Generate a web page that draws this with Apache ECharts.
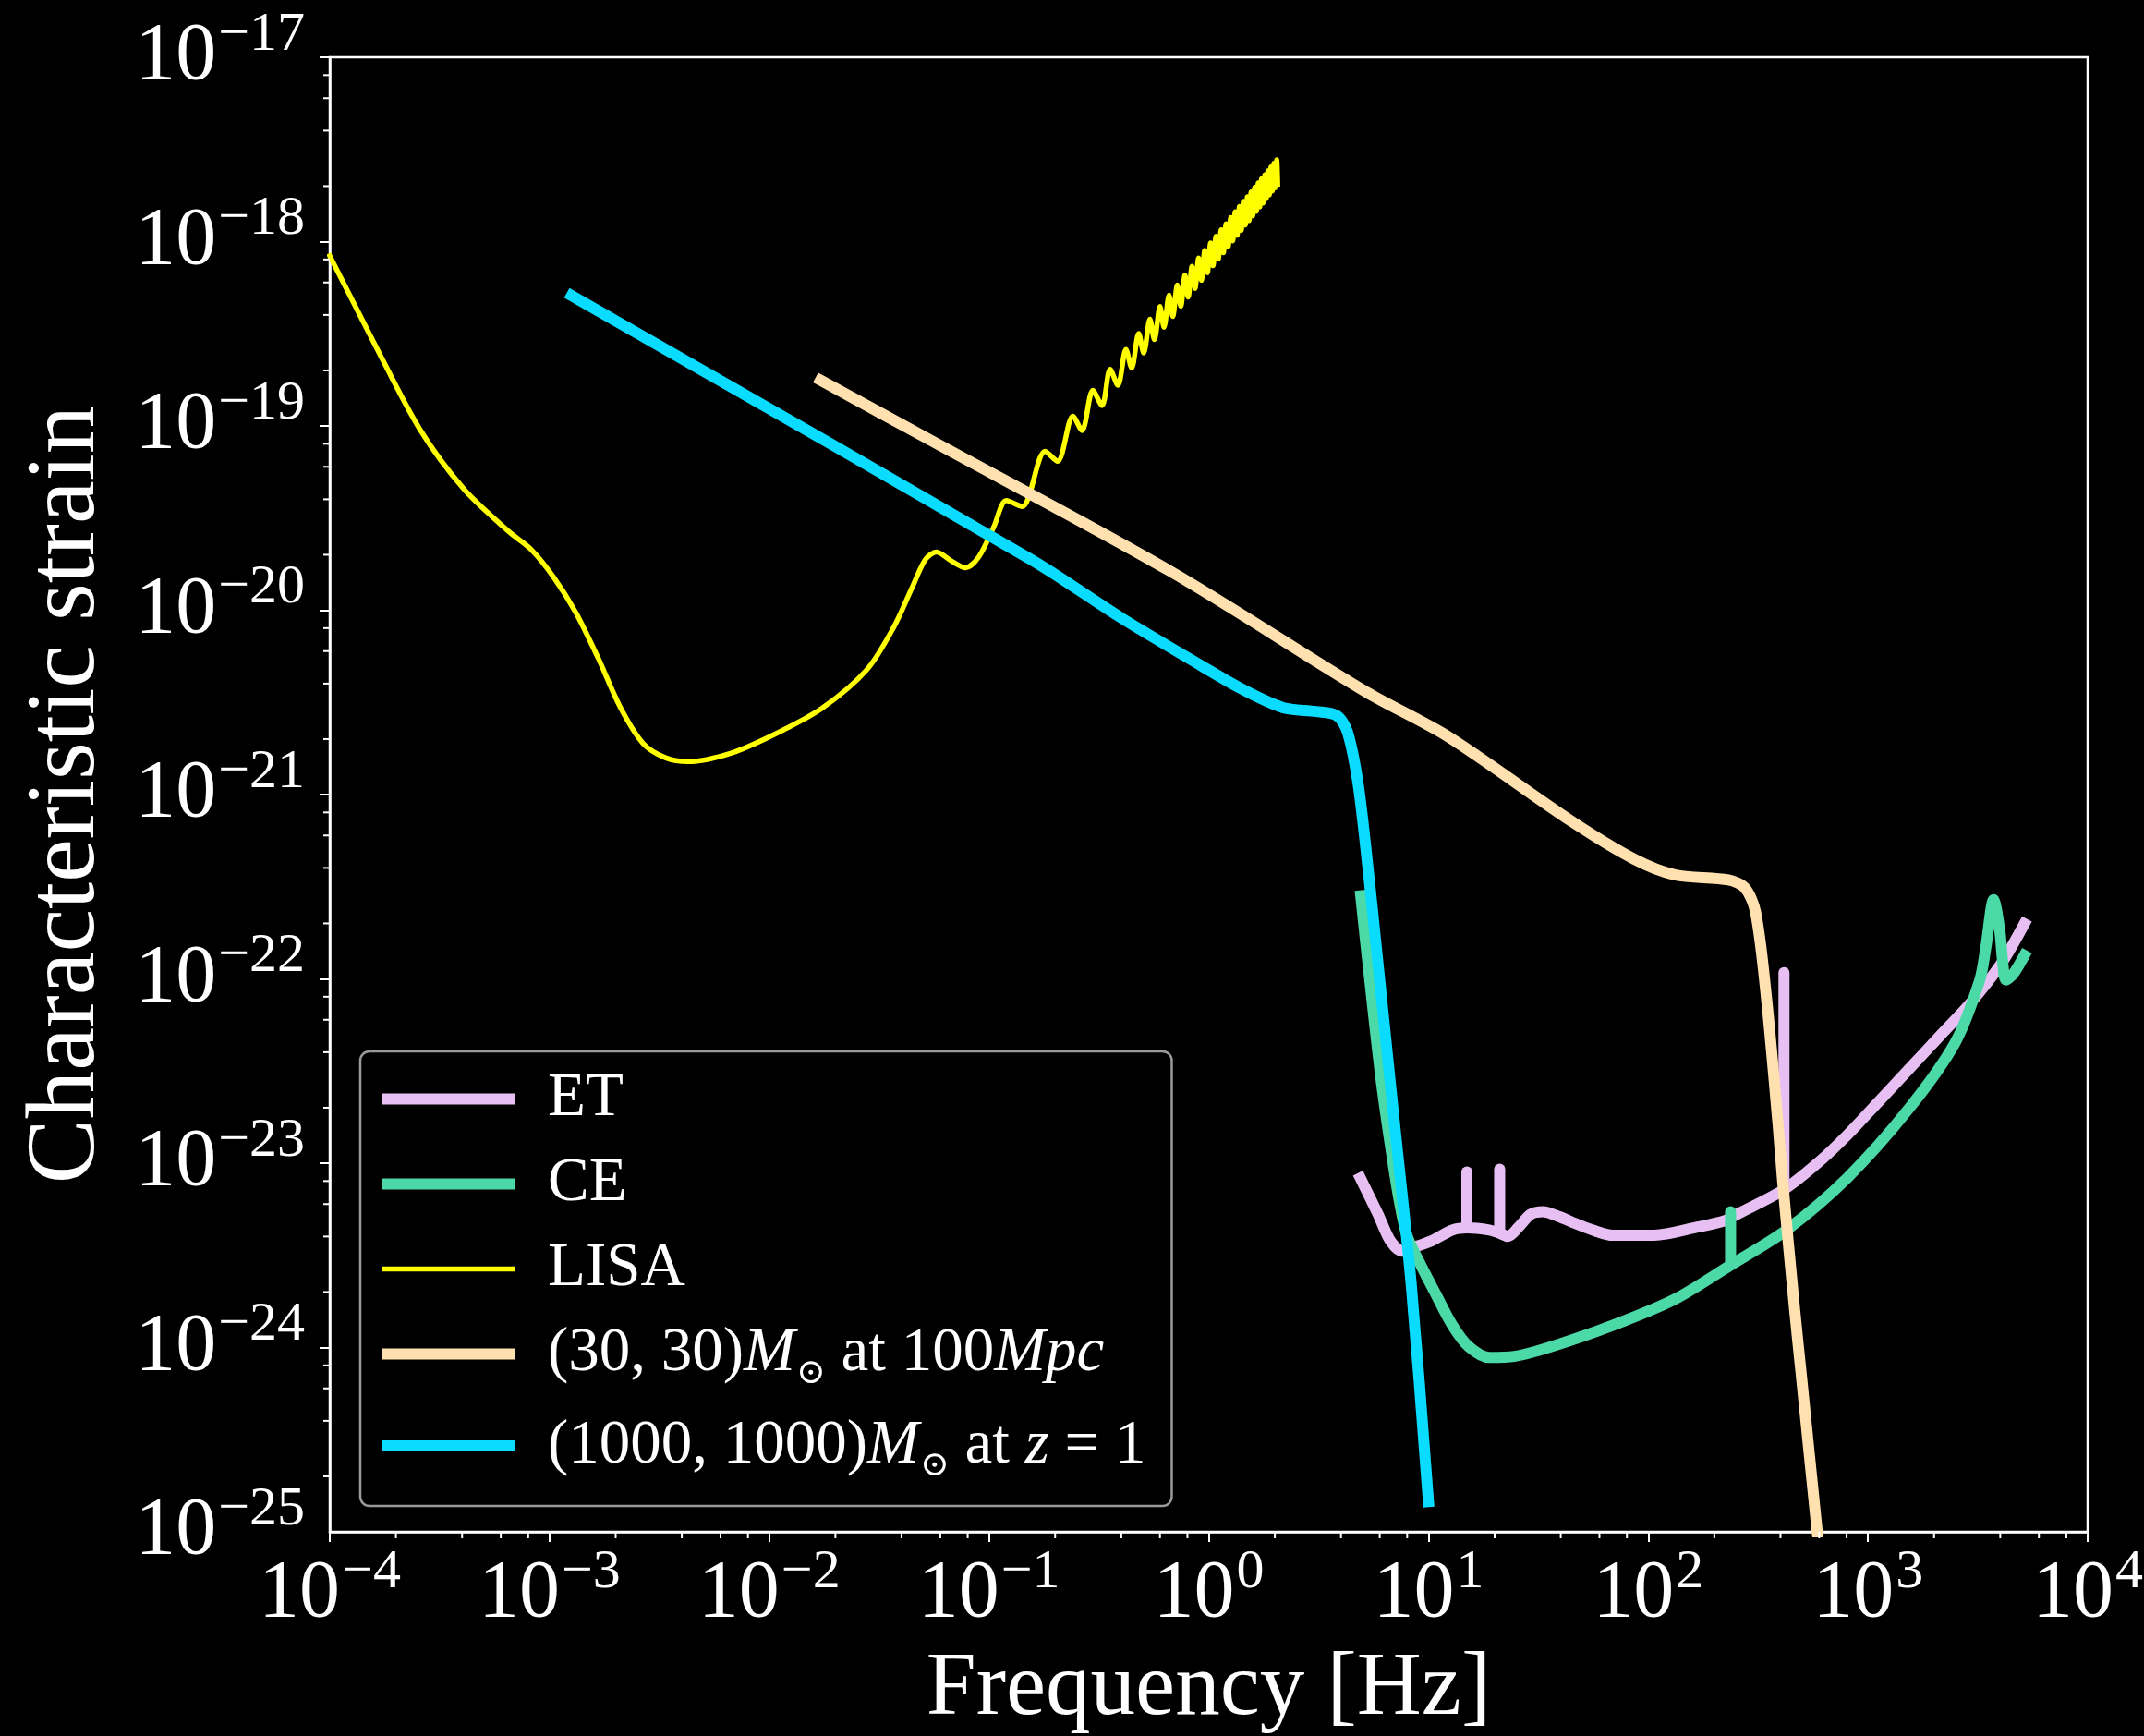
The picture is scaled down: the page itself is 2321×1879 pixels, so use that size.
<!DOCTYPE html>
<html>
<head>
<meta charset="utf-8">
<script src="https://cdn.jsdelivr.net/npm/echarts@6/dist/echarts.min.js"></script>
<style>
  html, body { margin: 0; padding: 0; background: #000; }
  #chart { width: 2321px; height: 1879px; }
</style>
</head>
<body>
<div id="chart"></div>
<script>
// Characteristic strain of ground/space detectors and two binary signals (log-log).

const SERIF = '"Liberation Serif", "Times New Roman", "DejaVu Serif", serif';

// axis ranges
const freqRange = [1e-4, 1e4];
const strainRange = [1e-25, 1e-17];
const minorMultipliers = [2, 4, 6, 8];

// series names as drawn in the legend
const seriesNames = ['ET', 'CE', 'LISA', '(30, 30)M⊙ at 100Mpc', '(1000, 1000)M⊙ at z = 1'];
const seriesColors = ['#E8BFF2', '#4CD9A8', '#FFFF00', '#FFE1B0', '#0ADCFF'];

// Einstein Telescope [frequency Hz, strain]
const etCurve = [
  [4.90, 8.30e-24], [5.90, 5.28e-24], [6.71, 3.79e-24], [7.64, 3.33e-24],
  [8.89, 3.55e-24], [10.35, 3.79e-24], [12.85, 4.34e-24], [14.96, 4.46e-24],
  [18.92, 4.34e-24], [21.09, 4.17e-24], [23.01, 4.01e-24], [25.64, 4.48e-24],
  [29.17, 5.28e-24], [33.19, 5.46e-24], [39.45, 5.12e-24], [44.98, 4.79e-24],
  [55.72, 4.34e-24], [69.18, 4.06e-24], [106.7, 4.07e-24], [164.4, 4.48e-24],
  [221.8, 4.86e-24], [253.5, 5.28e-24], [415, 7.2e-24], [601, 1.02e-23],
  [805, 1.42e-23], [1112, 2.14e-23], [1538, 3.24e-23], [2123, 4.90e-23],
  [2931, 7.40e-23], [4046, 1.21e-22], [5152, 1.99e-22]
];
// ET narrow lines [frequency, floor, peak]
const etLines = [
  [14.96, 4.46e-24, 8.97e-24],
  [21.09, 4.17e-24, 9.27e-24],
  [415, 7.2e-24, 1.08e-22]
];

// Cosmic Explorer
const ceCurve = [
  [4.92, 2.82e-22], [5.19, 1.55e-22], [5.65, 6.14e-23], [6.15, 2.59e-23],
  [6.71, 1.25e-23], [7.33, 6.46e-24], [7.98, 4.06e-24], [9.08, 2.91e-24],
  [10.8, 1.95e-24], [12.85, 1.32e-24], [15.28, 1.01e-24], [18.92, 8.83e-25],
  [24.55, 8.95e-25], [36.2, 1.01e-24], [69.2, 1.32e-24], [132.4, 1.83e-24],
  [237.1, 2.80e-24], [422.7, 4.31e-24], [805.4, 8.32e-24], [1538, 1.98e-23],
  [2495, 4.51e-23], [3228, 9.86e-23], [3443, 1.49e-22], [3733, 2.69e-22],
  [3981, 1.83e-22], [4111, 1.21e-22], [4246, 9.86e-23], [4603, 1.07e-22],
  [5152, 1.34e-22]
];
// CE narrow line [frequency, floor, peak]
const ceLines = [
  [237.1, 2.80e-24, 5.46e-24]
];

// LISA
const lisaCurve = [
  [1.0e-4, 8.37e-19], [1.60e-4, 2.78e-19], [2.56e-4, 9.66e-20], [4.08e-4, 4.54e-20],
  [6.53e-4, 2.67e-20], [8.24e-4, 2.14e-20], [1.045e-3, 1.51e-20], [1.32e-3, 9.68e-21],
  [1.67e-3, 5.46e-21], [2.11e-3, 2.94e-21], [2.67e-3, 1.89e-21], [3.37e-3, 1.585e-21],
  [4.27e-3, 1.51e-21], [6.82e-3, 1.69e-21], [1.09e-2, 2.16e-21], [1.74e-2, 2.94e-21],
  [2.79e-2, 4.78e-21], [3.69e-2, 8.11e-21], [4.46e-2, 1.32e-20], [5.13e-2, 1.88e-20],
  [5.77e-2, 2.07e-20], [6.79e-2, 1.84e-20], [7.82e-2, 1.70e-20], [9.02e-2, 1.96e-20],
  [0.105, 2.82e-20], [0.12, 3.94e-20], [0.1416, 3.65e-20],
  [0.18, 7.29e-20], [0.205, 6.43e-20],
  [0.241, 1.13e-19], [0.265, 9.44e-20],
  [0.297, 1.56e-19], [0.327, 1.29e-19],
  [0.356, 2.03e-19], [0.386, 1.66e-19],
  [0.42, 2.60e-19], [0.446, 2.06e-19],
  [0.48, 3.17e-19], [0.506, 2.49e-19],
  [0.54, 3.79e-19], [0.566, 2.94e-19],
  [0.60, 4.44e-19], [0.626, 3.43e-19],
  [0.66, 5.12e-19], [0.686, 3.93e-19],
  [0.72, 5.82e-19], [0.746, 4.46e-19],
  [0.78, 6.58e-19], [0.806, 5.00e-19],
  [0.84, 7.35e-19], [0.866, 5.57e-19],
  [0.90, 8.15e-19], [0.926, 6.17e-19],
  [0.96, 8.97e-19], [0.986, 6.78e-19],
  [1.02, 9.82e-19], [1.046, 7.40e-19],
  [1.08, 1.07e-18], [1.106, 8.05e-19],
  [1.14, 1.16e-18], [1.166, 8.71e-19],
  [1.20, 1.25e-18], [1.226, 9.40e-19],
  [1.26, 1.35e-18], [1.286, 1.01e-18],
  [1.32, 1.45e-18], [1.346, 1.08e-18],
  [1.38, 1.55e-18], [1.406, 1.15e-18],
  [1.44, 1.65e-18], [1.466, 1.23e-18],
  [1.50, 1.75e-18], [1.526, 1.30e-18],
  [1.56, 1.86e-18], [1.586, 1.38e-18],
  [1.62, 1.97e-18], [1.646, 1.46e-18],
  [1.68, 2.08e-18], [1.706, 1.54e-18],
  [1.74, 2.19e-18], [1.766, 1.62e-18],
  [1.80, 2.30e-18], [1.826, 1.71e-18],
  [1.86, 2.42e-18], [1.886, 1.79e-18],
  [1.92, 2.54e-18], [1.946, 1.88e-18],
  [1.98, 2.66e-18], [2.006, 1.96e-18],
  [2.04, 2.78e-18], [2.06, 2.05e-18]
];

// (30, 30) solar-mass binary at 100 Mpc
const bbh30Curve = [
  [0.0171, 1.77e-19], [0.0505, 8.75e-20], [0.667, 1.63e-20], [5.19, 3.61e-21],
  [12.3, 2.06e-21], [45.0, 7.13e-22], [85.9, 4.48e-22], [132, 3.67e-22],
  [232, 3.44e-22], [276, 3.11e-22], [308, 2.31e-22], [343, 8.55e-23],
  [390, 1.63e-23], [409, 8.04e-24], [464, 1.60e-24], [497, 7.19e-25],
  [588, 1.0e-25], [620, 5.9e-26]
];

// (1000, 1000) solar-mass binary at z = 1
const bbh1000Curve = [
  [1.26e-3, 5.09e-19], [0.157, 1.87e-20], [0.398, 9.12e-21], [0.92, 5.02e-21],
  [1.42, 3.73e-21], [2.18, 2.96e-21], [3.08, 2.82e-21], [3.83, 2.68e-21],
  [4.27, 2.20e-21], [4.75, 1.21e-21], [5.19, 5.12e-22], [5.90, 1.19e-22],
  [7.01, 1.63e-23], [8.34, 2.23e-24], [10.0, 1.46e-25]
];

const curves = [etCurve, ceCurve, lisaCurve, bbh30Curve, bbh1000Curve];
const lineWidths = [12, 12, 5.5, 12, 12];
const smoothing = 0.3;

// minor tick positions (2, 4, 6, 8 within each decade)
function minorTicks(range) {
  const out = [];
  const e0 = Math.round(Math.log10(range[0]));
  const e1 = Math.round(Math.log10(range[1]));
  for (let e = e0; e < e1; e++) {
    minorMultipliers.forEach(m => out.push(m * Math.pow(10, e)));
  }
  return out;
}
const xMinor = minorTicks(freqRange);
const yMinor = minorTicks(strainRange);

// power-of-ten tick labels
function powerLabel(v) {
  const e = Math.round(Math.log10(v));
  const exp = e < 0 ? '\u2212' + (-e) : String(e);
  return '{b|10}{s|' + exp + '}';
}
const tickRich = {
  b: { fontFamily: SERIF, fontSize: 88, color: '#fff', lineHeight: 96 },
  s: { fontFamily: SERIF, fontSize: 60, color: '#fff', lineHeight: 60, padding: [0, 0, 48, 2] }
};

// legend text with math-style parts
const legendMarkup = {
  'ET': '{rm|ET}',
  'CE': '{rm|CE}',
  'LISA': '{rm|LISA}',
  '(30, 30)M⊙ at 100Mpc': '{rm|(30, 30)}{it|M}{sub|⊙}{rm| at 100}{it|Mpc}',
  '(1000, 1000)M⊙ at z = 1': '{rm|(1000, 1000)}{it|M}{sub|⊙}{rm| at }{it|z}{rm| = 1}'
};
const legendRich = {
  rm: { fontFamily: SERIF, fontSize: 67, color: '#fff' },
  it: { fontFamily: SERIF, fontSize: 67, fontStyle: 'italic', color: '#fff' },
  // subscript: shifted down while keeping the row height of the plain entries
  sub: { fontFamily: '"DejaVu Serif", serif', fontSize: 38, color: '#fff', padding: [36, 0, -8, 1] }
};

const lineSeries = seriesNames.map((name, i) => ({
  name: name,
  type: 'line',
  xAxisIndex: 0,
  yAxisIndex: 0,
  data: curves[i],
  showSymbol: false,
  symbol: 'none',
  smooth: smoothing,
  clip: true,
  z: 10 + i,
  lineStyle: { color: seriesColors[i], width: lineWidths[i], cap: 'square', join: 'round' },
  itemStyle: { color: seriesColors[i] },
  emphasis: { disabled: true }
}));

// vertical narrow-line features drawn from floor to peak
function narrowLineSeries(rows, color, z) {
  return {
    type: 'custom', silent: true, clip: true, z: z, xAxisIndex: 0, yAxisIndex: 0,
    encode: { x: 0, y: [1, 2] },
    data: rows,
    renderItem: (params, api) => {
      const a = api.coord([api.value(0), api.value(1)]);
      const b = api.coord([api.value(0), api.value(2)]);
      return {
        type: 'line',
        shape: { x1: a[0], y1: a[1], x2: b[0], y2: b[1] },
        style: { stroke: color, lineWidth: 12, lineCap: 'round' }
      };
    }
  };
}

const tickStyle = { stroke: '#fff', lineWidth: 2 };
const minorTickSeries = [
  {
    type: 'custom', silent: true, clip: false, z: 30, xAxisIndex: 0, yAxisIndex: 0,
    data: xMinor.map(v => [v, strainRange[0]]),
    renderItem: (params, api) => {
      const p = api.coord([api.value(0), api.value(1)]);
      return { type: 'line', shape: { x1: p[0], y1: p[1], x2: p[0], y2: p[1] + 7 }, style: tickStyle };
    }
  },
  {
    type: 'custom', silent: true, clip: false, z: 30, xAxisIndex: 0, yAxisIndex: 0,
    data: yMinor.map(v => [freqRange[0], v]),
    renderItem: (params, api) => {
      const p = api.coord([api.value(0), api.value(1)]);
      return { type: 'line', shape: { x1: p[0], y1: p[1], x2: p[0] - 7, y2: p[1] }, style: tickStyle };
    }
  }
];

const plotRect = { left: 357, right: 61, top: 62, bottom: 221 };

const chart = echarts.init(document.getElementById('chart'), null, { renderer: 'canvas' });
chart.setOption({
  backgroundColor: '#000',
  animation: false,
  grid: [
    Object.assign({
      show: true, borderColor: '#fff', borderWidth: 2.5, backgroundColor: 'transparent',
      containLabel: false, outerBoundsMode: 'none'
    }, plotRect),
    // twin frame that carries the strain tick labels
    Object.assign({ show: false, containLabel: false, outerBoundsMode: 'none' }, plotRect)
  ],
  xAxis: [
    {
      type: 'log', logBase: 10, min: freqRange[0], max: freqRange[1], splitNumber: 8, gridIndex: 0,
      name: 'Frequency [Hz]', nameLocation: 'middle', nameGap: 123, nameMoveOverlap: false,
      nameTextStyle: { fontFamily: SERIF, fontSize: 97, color: '#fff', lineHeight: 97 },
      axisLine: { show: true, lineStyle: { color: '#fff', width: 2.5 } },
      axisTick: { show: true, inside: false, length: 11, lineStyle: { color: '#fff', width: 2 } },
      minorTick: { show: false },
      splitLine: { show: false },
      axisLabel: {
        show: true, margin: 20, showMinLabel: true, showMaxLabel: true, hideOverlap: false,
        formatter: powerLabel, rich: tickRich, color: '#fff'
      }
    },
    {
      type: 'log', logBase: 10, min: freqRange[0], max: freqRange[1], gridIndex: 1, show: false
    }
  ],
  yAxis: [
    {
      type: 'log', logBase: 10, min: strainRange[0], max: strainRange[1], splitNumber: 8, gridIndex: 0,
      name: 'Characteristic strain', nameLocation: 'middle', nameRotate: 90, nameGap: 231,
      nameMoveOverlap: false,
      nameTextStyle: { fontFamily: SERIF, fontSize: 105, color: '#fff', lineHeight: 105 },
      axisLine: { show: true, lineStyle: { color: '#fff', width: 2.5 } },
      axisTick: { show: true, inside: false, length: 11, lineStyle: { color: '#fff', width: 2 } },
      minorTick: { show: false },
      splitLine: { show: false },
      axisLabel: { show: false }
    },
    {
      // lower bound nudged a hair below 1e-25 so the bottom decade gets its own label
      type: 'log', logBase: 10, min: strainRange[0] * 0.99999999, max: strainRange[1], splitNumber: 8, gridIndex: 1,
      axisLine: { show: false },
      axisTick: { show: false },
      minorTick: { show: false },
      splitLine: { show: false },
      axisLabel: {
        show: true, margin: 27, showMinLabel: true, showMaxLabel: true, hideOverlap: true,
        formatter: powerLabel, rich: tickRich, color: '#fff'
      }
    }
  ],
  legend: {
    orient: 'vertical', left: 390, top: 1138,
    itemWidth: 144, itemHeight: 14, itemGap: 25,
    padding: [18, 28, 24, 18],
    backgroundColor: 'rgba(0,0,0,0.8)', borderColor: '#9a9a9a', borderWidth: 2.5, borderRadius: 10,
    selectedMode: false,
    lineStyle: { width: 'inherit', cap: 'butt' },
    itemStyle: { color: 'rgba(0,0,0,0)', borderColor: 'rgba(0,0,0,0)', borderWidth: 0, opacity: 0 },
    textStyle: { color: '#fff', fontFamily: SERIF, fontSize: 67, rich: legendRich, padding: [0, 0, 0, 30] },
    formatter: name => legendMarkup[name],
    data: seriesNames.map(n => ({ name: n }))
  },
  series: lineSeries.concat([
    narrowLineSeries(etLines, seriesColors[0], 10),
    narrowLineSeries(ceLines, seriesColors[1], 11)
  ], minorTickSeries)
});
</script>
</body>
</html>
